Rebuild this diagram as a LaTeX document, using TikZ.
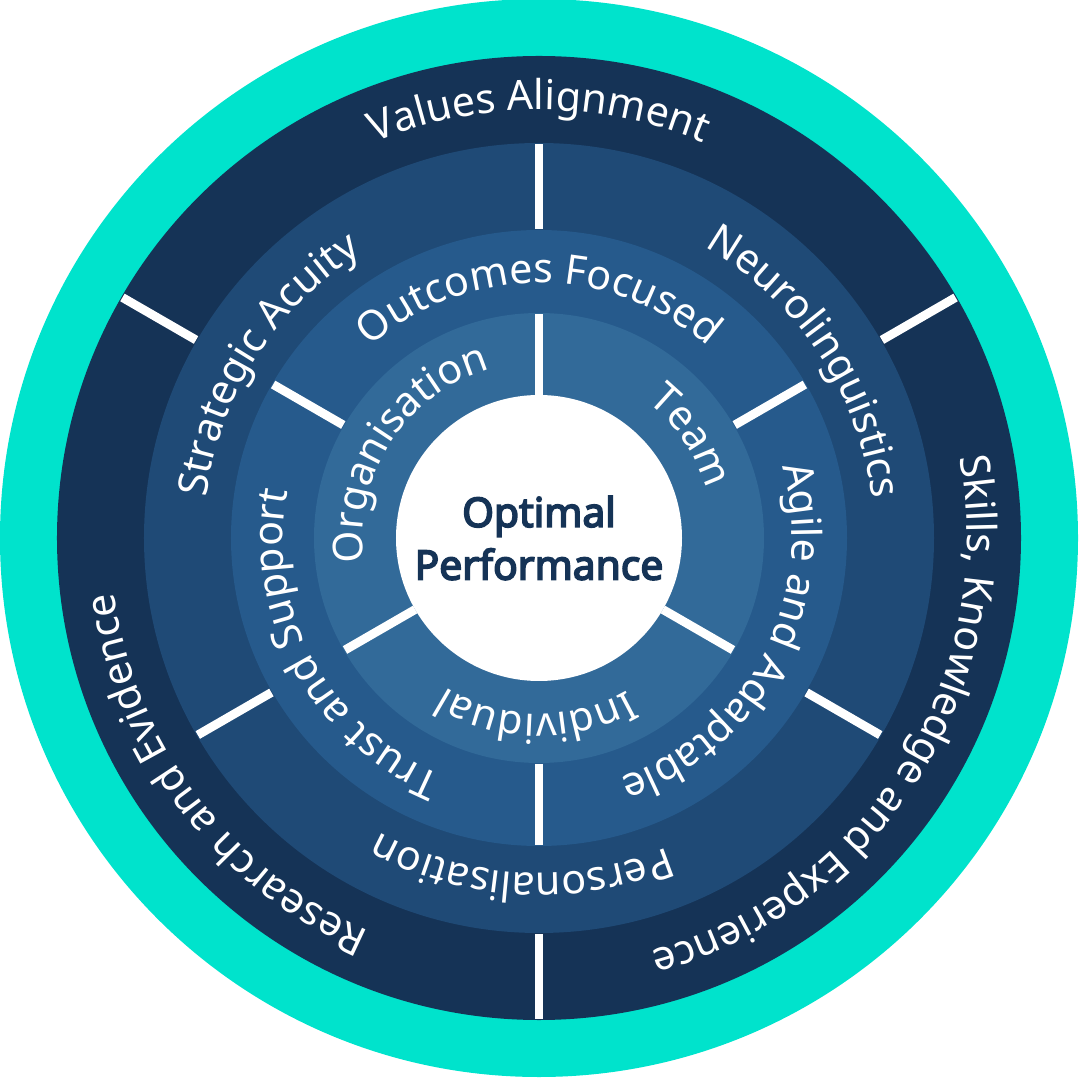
\documentclass[tikz,border=0pt]{standalone}
\usepackage{fontspec}
\setmainfont{Noto Sans}[AutoFakeBold=4]
\usepackage{xcolor}
\usepackage{tikz}
\usetikzlibrary{decorations.text}
\definecolor{wheelTeal}{HTML}{00E3CC}
\definecolor{wheelNavy}{HTML}{153356}
\definecolor{wheelMid}{HTML}{1F4A76}
\definecolor{wheelBlue}{HTML}{265A8C}
\definecolor{wheelSky}{HTML}{326A99}
\newcommand{\ringfont}{\fontsize{11.7}{14}\selectfont}

\begin{document}
\begin{tikzpicture}[
  divider/.style={draw=white, line width=2.5pt},
  ringlabel/.style={decorate,
             decoration={text along path, text align=center, text color=white}},
  hub/.style={circle, fill=white, minimum size=2.86cm, inner sep=0pt,
             align=center, text=wheelNavy,
             font=\fontsize{11.6}{15}\selectfont\bfseries},
]
\useasboundingbox (-5.39,-5.42) rectangle (5.41,5.38);

% Rings
\fill[wheelTeal] (0,0) circle (5.39);
\fill[wheelNavy] (0,0) circle (4.82);
\fill[wheelMid] (0,0) circle (3.95);
\fill[wheelBlue] (0,0) circle (3.08);
\fill[wheelSky] (0,0) circle (2.25);

% Dividers
\draw[divider] (30:3.96) -- (30:4.81);
\draw[divider] (150:3.96) -- (150:4.81);
\draw[divider] (270:3.96) -- (270:4.81);
\draw[divider] (90:3.09) -- (90:3.94);
\draw[divider] (210:3.09) -- (210:3.94);
\draw[divider] (330:3.09) -- (330:3.94);
\draw[divider] (30:2.26) -- (30:3.07);
\draw[divider] (150:2.26) -- (150:3.07);
\draw[divider] (270:2.26) -- (270:3.07);
\draw[divider] (90:1.43) -- (90:2.24);
\draw[divider] (210:1.43) -- (210:2.24);
\draw[divider] (330:1.43) -- (330:2.24);

% Outer ring
\path[ringlabel, decoration={text={|\ringfont|Values Alignment}}]
  (150:4.28) arc[start angle=150, end angle=30, radius=4.28];
\path[ringlabel, decoration={text={|\ringfont|Skills{,} Knowledge and Experience}}]
  (28:4.28) arc[start angle=28, end angle=-92, radius=4.28];
\path[ringlabel, decoration={text={|\ringfont|Research and Evidence}}]
  (277:4.28) arc[start angle=277, end angle=157, radius=4.28];

% Second ring
\path[ringlabel, decoration={text={|\ringfont|Strategic Acuity}}]
  (207.5:3.35) arc[start angle=207.5, end angle=87.5, radius=3.35];
\path[ringlabel, decoration={text={|\ringfont|Neurolinguistics}}]
  (93.5:3.35) arc[start angle=93.5, end angle=-26.5, radius=3.35];
\path[ringlabel, decoration={text={|\ringfont|Personalisation}}]
  (327:3.35) arc[start angle=327, end angle=207, radius=3.35];

% Third ring
\path[ringlabel, decoration={text={|\ringfont|Outcomes Focused}}]
  (150:2.55) arc[start angle=150, end angle=30, radius=2.55];
\path[ringlabel, decoration={text={|\ringfont|Agile and Adaptable}}]
  (32.5:2.53) arc[start angle=32.5, end angle=-87.5, radius=2.53];
\path[ringlabel, decoration={text={|\ringfont|Trust and Support}}]
  (268.5:2.56) arc[start angle=268.5, end angle=148.5, radius=2.56];

% Inner ring
\path[ringlabel, decoration={text={|\ringfont|Organisation}}]
  (207:1.76) arc[start angle=207, end angle=87, radius=1.76];
\path[ringlabel, decoration={text={|\ringfont|Team}}]
  (94:1.74) arc[start angle=94, end angle=-26, radius=1.74];
\path[ringlabel, decoration={text={|\ringfont|Individual}}]
  (329:1.76) arc[start angle=329, end angle=209, radius=1.76];

% Centre
\node[hub] (core) at (0,0) {Optimal\\Performance};

\end{tikzpicture}
\end{document}
